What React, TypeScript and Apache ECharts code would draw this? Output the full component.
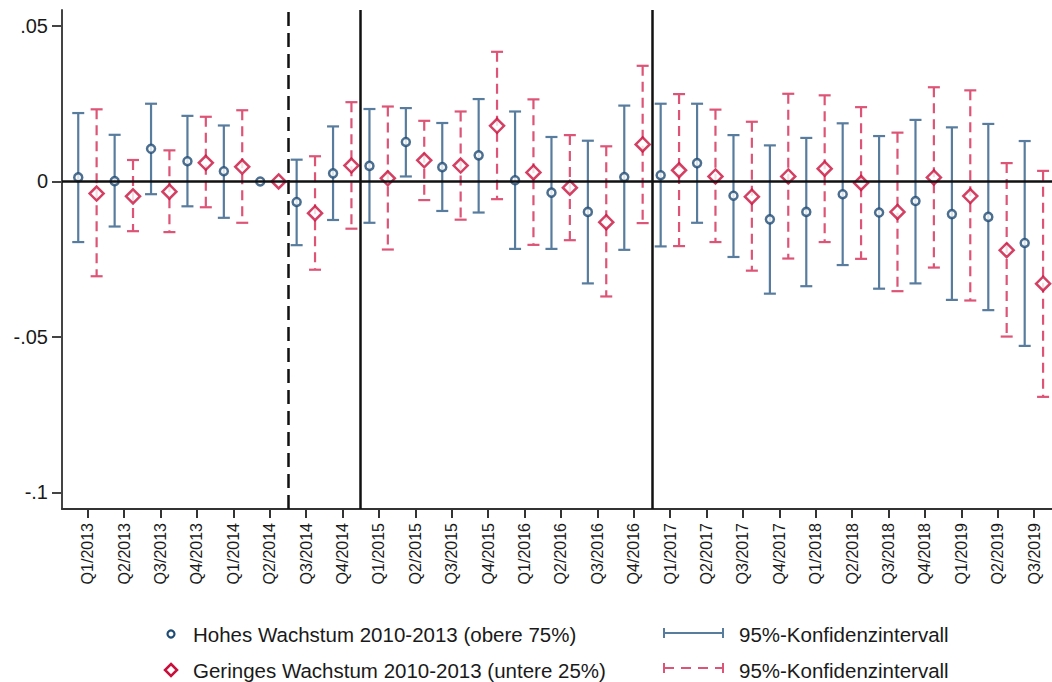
import React, { useEffect, useRef } from "react";
import * as echarts from "echarts";

// Quarters on the horizontal axis
const quarters = [
  "Q1/2013", "Q2/2013", "Q3/2013", "Q4/2013", "Q1/2014", "Q2/2014", "Q3/2014", "Q4/2014",
  "Q1/2015", "Q2/2015", "Q3/2015", "Q4/2015", "Q1/2016", "Q2/2016", "Q3/2016", "Q4/2016",
  "Q1/2017", "Q2/2017", "Q3/2017", "Q4/2017", "Q1/2018", "Q2/2018", "Q3/2018", "Q4/2018",
  "Q1/2019", "Q2/2019", "Q3/2019",
];

// High-growth group (upper 75%): estimate and 95% confidence bounds
const highEst = [
  0.0013, 0.0001, 0.0105, 0.0065, 0.0033, 0, -0.0066, 0.0026,
  0.005, 0.0127, 0.0046, 0.0084, 0.0004, -0.0036, -0.0098, 0.0014,
  0.002, 0.0059, -0.0046, -0.0122, -0.0098, -0.0041, -0.01, -0.0063,
  -0.0105, -0.0114, -0.0198,
];
const highLo = [
  -0.0195, -0.0145, -0.0041, -0.008, -0.0117, null, -0.0205, -0.0124,
  -0.0133, 0.0016, -0.0095, -0.01, -0.0217, -0.0217, -0.0328, -0.022,
  -0.0209, -0.0133, -0.0243, -0.0361, -0.0337, -0.0269, -0.0345, -0.0328,
  -0.0381, -0.0414, -0.0529,
];
const highHi = [
  0.022, 0.015, 0.025, 0.0211, 0.018, null, 0.007, 0.0177,
  0.0233, 0.0236, 0.0188, 0.0265, 0.0225, 0.0143, 0.0131, 0.0244,
  0.025, 0.025, 0.0149, 0.0116, 0.014, 0.0187, 0.0146, 0.0198,
  0.0174, 0.0185, 0.013,
];

// Low-growth group (lower 25%): estimate and 95% confidence bounds
const lowEst = [
  -0.0039, -0.0048, -0.0033, 0.006, 0.0047, 0, -0.0102, 0.0051,
  0.001, 0.0068, 0.0051, 0.0179, 0.0029, -0.002, -0.0131, 0.0119,
  0.0036, 0.0016, -0.0049, 0.0016, 0.0041, -0.0005, -0.0098, 0.0013,
  -0.0047, -0.0221, -0.0329,
];
const lowLo = [
  -0.0305, -0.016, -0.0163, -0.0083, -0.0133, null, -0.0284, -0.0152,
  -0.0219, -0.006, -0.0123, -0.0057, -0.0204, -0.0189, -0.037, -0.0134,
  -0.0208, -0.0195, -0.0287, -0.0248, -0.0195, -0.0249, -0.0353, -0.0277,
  -0.0383, -0.0499, -0.0693,
];
const lowHi = [
  0.0232, 0.0069, 0.01, 0.0208, 0.0229, null, 0.0081, 0.0255,
  0.0241, 0.0195, 0.0225, 0.0417, 0.0264, 0.0149, 0.0113, 0.0372,
  0.0281, 0.0231, 0.0192, 0.0282, 0.0277, 0.0239, 0.0157, 0.0303,
  0.0293, 0.0059, 0.0034,
];

// Y tick values and their labels
const yTickValues = [-0.1, -0.05, 0, 0.05];
const yTickLabels = ["-.1", "-.05", "0", ".05"];

// Period boundaries (between quarters): dashed first, then solid
const dashedBreaks = [5.5];
const solidBreaks = [7.5, 15.5];

const FONT = '"Liberation Sans", Arial, Helvetica, sans-serif';
const BLUE = "#1f4b74";
const BLUE_CI = "#587c9e";
const RED = "#c8103c";
const RED_CI = "#dd5476";

const HIGH_SHIFT = -0.26;
const LOW_SHIFT = 0.245;

function errorBar(color: string, dash: number[] | null) {
  return (_params: any, api: any) => {
    const x = api.value(0);
    const lo = api.coord([x, api.value(1)]);
    const hi = api.coord([x, api.value(2)]);
    const cap = 6;
    const base = { stroke: color, lineWidth: 2.2, fill: "none" };
    return {
      type: "group",
      children: [
        {
          type: "line",
          shape: { x1: hi[0], y1: hi[1], x2: lo[0], y2: lo[1] },
          style: dash ? { ...base, lineDash: dash } : base,
        },
        { type: "line", shape: { x1: hi[0] - cap, y1: hi[1], x2: hi[0] + cap, y2: hi[1] }, style: base },
        { type: "line", shape: { x1: lo[0] - cap, y1: lo[1], x2: lo[0] + cap, y2: lo[1] }, style: base },
      ],
    };
  };
}

export default function App() {
  const ref = useRef<HTMLDivElement>(null);

  useEffect(() => {
    if (!ref.current) return;
    const chart = echarts.init(ref.current, null, { renderer: "svg" });

    const idx = quarters.map((_, i) => i);
    const highCI = idx
      .filter((i) => highLo[i] !== null && highHi[i] !== null)
      .map((i) => [i + HIGH_SHIFT, highLo[i], highHi[i]]);
    const lowCI = idx
      .filter((i) => lowLo[i] !== null && lowHi[i] !== null)
      .map((i) => [i + LOW_SHIFT, lowLo[i], lowHi[i]]);
    const highPts = idx.map((i) => [i + HIGH_SHIFT, highEst[i]]);
    const lowPts = idx.map((i) => [i + LOW_SHIFT, lowEst[i]]);

    const legendRows = [634, 670];
    const capH = 5;

    chart.setOption({
      animation: false,
      backgroundColor: "#ffffff",
      grid: { left: 62, right: 0, top: 10, bottom: 173, containLabel: false },
      xAxis: {
        type: "value",
        min: -0.706,
        max: 26.49,
        axisLine: { show: true, onZero: false, lineStyle: { color: "#333", width: 2 } },
        axisTick: { show: true, customValues: idx, length: 9, lineStyle: { color: "#333", width: 2 } },
        axisLabel: {
          customValues: idx,
          rotate: 90,
          margin: 14,
          fontSize: 16,
          fontFamily: FONT,
          color: "#1a1a1a",
          formatter: (v: number) => quarters[Math.round(v)] ?? "",
        },
        splitLine: { show: false },
      },
      yAxis: {
        type: "value",
        min: -0.10537,
        max: 0.05515,
        axisLine: { show: true, onZero: false, lineStyle: { color: "#444", width: 2 } },
        axisTick: { show: true, customValues: yTickValues, length: 10, lineStyle: { color: "#444", width: 2 } },
        axisLabel: {
          customValues: yTickValues,
          margin: 14,
          fontSize: 20,
          fontFamily: FONT,
          color: "#1a1a1a",
          formatter: (v: number) => {
            const k = yTickValues.findIndex((t) => Math.abs(t - v) < 1e-9);
            return k >= 0 ? yTickLabels[k] : "";
          },
        },
        splitLine: { show: false },
      },
      series: [
        {
          name: "reference",
          type: "line",
          data: [],
          z: 1,
          silent: true,
          markLine: {
            silent: true,
            symbol: "none",
            label: { show: false },
            data: [
              ...dashedBreaks.map((b) => ({
                xAxis: b,
                lineStyle: { color: "#111", width: 2.5, type: [14, 7] },
              })),
              ...solidBreaks.map((b) => ({
                xAxis: b,
                lineStyle: { color: "#111", width: 2.5, type: "solid" },
              })),
              { yAxis: 0, lineStyle: { color: "#111", width: 2.5, type: "solid" } },
            ],
          },
        },
        {
          name: "KI hoch",
          type: "custom",
          z: 2,
          renderItem: errorBar(BLUE_CI, null),
          encode: { x: 0, y: [1, 2] },
          data: highCI,
        },
        {
          name: "KI niedrig",
          type: "custom",
          z: 2,
          renderItem: errorBar(RED_CI, [10, 6]),
          encode: { x: 0, y: [1, 2] },
          data: lowCI,
        },
        {
          name: "Hohes Wachstum 2010-2013 (obere 75%)",
          type: "scatter",
          z: 3,
          symbol: "circle",
          symbolSize: 8,
          itemStyle: { color: "#ffffff", borderColor: BLUE, borderWidth: 2.5 },
          data: highPts,
        },
        {
          name: "Geringes Wachstum 2010-2013 (untere 25%)",
          type: "scatter",
          z: 3,
          symbol: "diamond",
          symbolSize: [14, 14],
          itemStyle: { color: "#ffffff", borderColor: RED, borderWidth: 2.5 },
          data: lowPts,
        },
      ],
      graphic: [
        // marker keys
        {
          type: "circle",
          shape: { cx: 171, cy: legendRows[0], r: 3.5 },
          style: { fill: "#fff", stroke: BLUE, lineWidth: 2.2 },
        },
        {
          type: "polygon",
          shape: {
            points: [
              [171, legendRows[1] - 6],
              [177, legendRows[1]],
              [171, legendRows[1] + 6],
              [165, legendRows[1]],
            ],
          },
          style: { fill: "#fff", stroke: RED, lineWidth: 2.5 },
        },
        {
          type: "text",
          x: 193,
          y: legendRows[0],
          style: {
            text: "Hohes Wachstum 2010-2013 (obere 75%)",
            font: `20.5px ${FONT}`,
            fill: "#1a1a1a",
            verticalAlign: "middle",
          },
        },
        {
          type: "text",
          x: 193,
          y: legendRows[1],
          style: {
            text: "Geringes Wachstum 2010-2013 (untere 25%)",
            font: `20.5px ${FONT}`,
            fill: "#1a1a1a",
            verticalAlign: "middle",
          },
        },
        // interval keys
        {
          type: "line",
          shape: { x1: 664, y1: legendRows[0] - 1, x2: 723, y2: legendRows[0] - 1 },
          style: { stroke: BLUE_CI, lineWidth: 2 },
        },
        {
          type: "line",
          shape: { x1: 664, y1: legendRows[0] - 1 - capH, x2: 664, y2: legendRows[0] - 1 + capH },
          style: { stroke: BLUE_CI, lineWidth: 2 },
        },
        {
          type: "line",
          shape: { x1: 723, y1: legendRows[0] - 1 - capH, x2: 723, y2: legendRows[0] - 1 + capH },
          style: { stroke: BLUE_CI, lineWidth: 2 },
        },
        {
          type: "line",
          shape: { x1: 664, y1: legendRows[1] - 2, x2: 723, y2: legendRows[1] - 2 },
          style: { stroke: RED_CI, lineWidth: 2, lineDash: [10, 7] },
        },
        {
          type: "line",
          shape: { x1: 664, y1: legendRows[1] - 2 - capH, x2: 664, y2: legendRows[1] - 2 + capH },
          style: { stroke: RED_CI, lineWidth: 2 },
        },
        {
          type: "line",
          shape: { x1: 723, y1: legendRows[1] - 2 - capH, x2: 723, y2: legendRows[1] - 2 + capH },
          style: { stroke: RED_CI, lineWidth: 2 },
        },
        {
          type: "text",
          x: 739,
          y: legendRows[0],
          style: {
            text: "95%-Konfidenzintervall",
            font: `20.5px ${FONT}`,
            fill: "#1a1a1a",
            verticalAlign: "middle",
          },
        },
        {
          type: "text",
          x: 739,
          y: legendRows[1],
          style: {
            text: "95%-Konfidenzintervall",
            font: `20.5px ${FONT}`,
            fill: "#1a1a1a",
            verticalAlign: "middle",
          },
        },
      ],
    });

    return () => chart.dispose();
  }, []);

  return (
    <div
      ref={ref}
      style={{ position: "absolute", left: 0, top: 0, width: 1052, height: 682, background: "#fff" }}
    />
  );
}
